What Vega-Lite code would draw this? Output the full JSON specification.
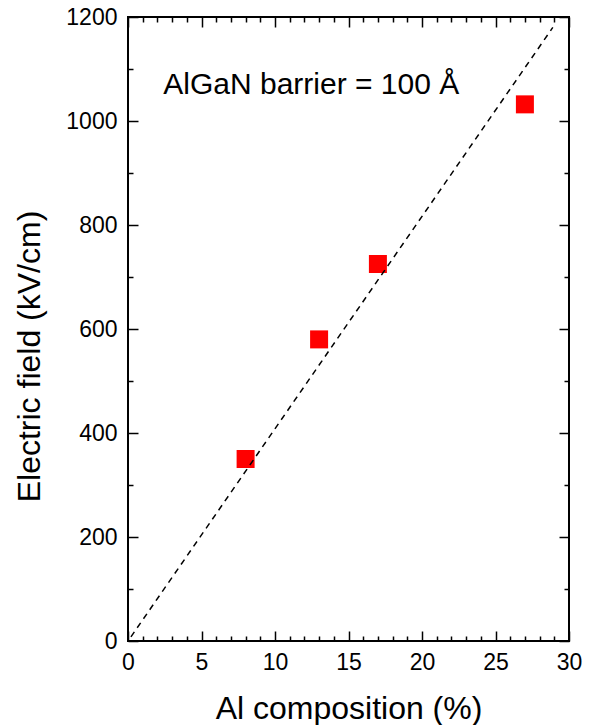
{
  "$schema": "https://vega.github.io/schema/vega-lite/v6.json",
  "width": 441,
  "height": 624,
  "autosize": {"type": "none"},
  "padding": {"left": 128, "top": 17, "right": 21, "bottom": 84},
  "background": "white",
  "config": {
    "view": {"stroke": "black", "strokeWidth": 2},
    "font": "Liberation Sans",
    "axis": {"grid": false, "domain": false, "tickColor": "black", "tickWidth": 1.5, "labelColor": "black", "titleColor": "black", "labelFont": "Liberation Sans", "titleFont": "Liberation Sans", "labelFontSize": 23, "titleFontSize": 32, "titleFontWeight": "normal"}
  },
  "datasets": {
    "pts": [
      {"al": 8, "field": 350},
      {"al": 13, "field": 580},
      {"al": 17, "field": 725},
      {"al": 27, "field": 1032}
    ],
    "fit": [
      {"al": 0.2, "field": 8},
      {"al": 28.9, "field": 1180}
    ],
    "note": [
      {"al": 2.4, "field": 1069, "label": "AlGaN barrier = 100 Å"}
    ]
  },
  "layer": [
    {
      "data": {"name": "pts"},
      "mark": {"type": "square", "color": "#ff0000", "opacity": 1, "size": 324},
      "encoding": {
        "x": {"field": "al", "type": "quantitative", "scale": {"domain": [0, 30], "nice": false}, "title": "Al composition (%)",
          "axis": {"orient": "bottom", "values": [0,1,2,3,4,5,6,7,8,9,10,11,12,13,14,15,16,17,18,19,20,21,22,23,24,25,26,27,28,29,30],
            "labelExpr": "datum.value % 5 === 0 ? datum.label : ''",
            "tickSize": {"condition": {"test": "datum.value % 5 === 0", "value": -10}, "value": -5},
            "labelPadding": 20, "titlePadding": 14, "labelFlush": false, "labelOverlap": false}},
        "y": {"field": "field", "type": "quantitative", "scale": {"domain": [0, 1200], "nice": false}, "title": "Electric field (kV/cm)",
          "axis": {"orient": "left", "values": [0,100,200,300,400,500,600,700,800,900,1000,1100,1200],
            "labelExpr": "datum.value % 200 === 0 ? datum.label : ''",
            "format": "d",
            "tickSize": {"condition": {"test": "datum.value % 200 === 0", "value": -10}, "value": -5},
            "labelPadding": 21, "titlePadding": 19, "titleY": 339, "labelFlush": false, "labelOverlap": false}}
      }
    },
    {
      "data": {"name": "fit"},
      "mark": {"type": "line", "color": "black", "strokeWidth": 1.5, "strokeDash": [6, 5]},
      "encoding": {
        "x": {"field": "al", "type": "quantitative", "scale": {"domain": [0, 30], "nice": false},
          "axis": {"orient": "top", "title": null, "labels": false, "values": [0,1,2,3,4,5,6,7,8,9,10,11,12,13,14,15,16,17,18,19,20,21,22,23,24,25,26,27,28,29,30],
            "tickSize": {"condition": {"test": "datum.value % 5 === 0", "value": -10}, "value": -5}}},
        "y": {"field": "field", "type": "quantitative", "scale": {"domain": [0, 1200], "nice": false},
          "axis": {"orient": "right", "title": null, "labels": false, "values": [0,100,200,300,400,500,600,700,800,900,1000,1100,1200],
            "tickSize": {"condition": {"test": "datum.value % 200 === 0", "value": -10}, "value": -5}}}
      }
    },
    {
      "data": {"name": "note"},
      "mark": {"type": "text", "align": "left", "baseline": "middle", "fontSize": 30, "color": "black", "font": "Liberation Sans"},
      "encoding": {
        "x": {"field": "al", "type": "quantitative", "scale": {"domain": [0, 30], "nice": false}, "axis": null},
        "y": {"field": "field", "type": "quantitative", "scale": {"domain": [0, 1200], "nice": false}, "axis": null},
        "text": {"field": "label"}
      }
    }
  ],
  "resolve": {"axis": {"x": "independent", "y": "independent"}}
}
